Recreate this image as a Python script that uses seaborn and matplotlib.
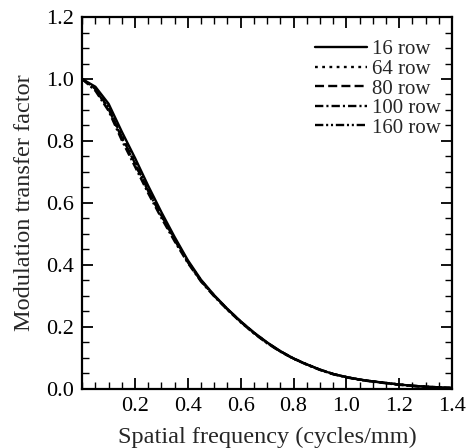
import numpy as np
import pandas as pd
import seaborn as sns
import matplotlib.pyplot as plt
from matplotlib.ticker import MultipleLocator

# -----------------------------
# Data
# -----------------------------
freq = [0.0, 0.05, 0.1, 0.15, 0.2, 0.25, 0.3, 0.35, 0.4, 0.45, 0.5, 0.55, 0.6,
        0.65, 0.7, 0.75, 0.8, 0.85, 0.9, 0.95, 1.0, 1.05, 1.1, 1.15, 1.2,
        1.25, 1.3, 1.35, 1.4]

mtf_16 = [1.0, 0.975, 0.92, 0.83, 0.745, 0.655, 0.57, 0.49, 0.415, 0.352, 0.302,
          0.258, 0.218, 0.182, 0.15, 0.122, 0.098, 0.079, 0.062, 0.048, 0.038,
          0.030, 0.024, 0.019, 0.014, 0.010, 0.007, 0.005, 0.003]
mtf_64 = [1.0, 0.970, 0.910, 0.818, 0.733, 0.645, 0.562, 0.484, 0.411, 0.350, 0.301,
          0.257, 0.217, 0.181, 0.149, 0.121, 0.098, 0.079, 0.062, 0.048, 0.038,
          0.030, 0.024, 0.019, 0.014, 0.010, 0.007, 0.005, 0.003]
mtf_80 = [1.0, 0.968, 0.906, 0.813, 0.728, 0.641, 0.559, 0.482, 0.410, 0.349, 0.300,
          0.257, 0.217, 0.181, 0.149, 0.121, 0.098, 0.079, 0.062, 0.048, 0.038,
          0.030, 0.024, 0.019, 0.014, 0.010, 0.007, 0.005, 0.003]
mtf_100 = [1.0, 0.962, 0.897, 0.802, 0.717, 0.631, 0.551, 0.476, 0.406, 0.346, 0.298,
           0.255, 0.215, 0.179, 0.147, 0.120, 0.097, 0.078, 0.061, 0.047, 0.037,
           0.029, 0.023, 0.018, 0.013, 0.009, 0.006, 0.004, 0.002]
mtf_160 = [1.0, 0.966, 0.903, 0.810, 0.725, 0.638, 0.557, 0.480, 0.409, 0.348, 0.300,
           0.256, 0.216, 0.180, 0.148, 0.121, 0.098, 0.079, 0.062, 0.048, 0.038,
           0.030, 0.024, 0.019, 0.014, 0.010, 0.007, 0.005, 0.003]

labels = ["16 row", "64 row", "80 row", "100 row", "160 row"]
series = [mtf_16, mtf_64, mtf_80, mtf_100, mtf_160]
dashes = [None, (2, 3.2), (6.5, 3), (6, 2.2, 1.5, 2.2), (6, 2, 1.5, 2, 1.5, 2)]

# -----------------------------
# Style
# -----------------------------
sns.set_style("ticks")
plt.rcParams["font.family"] = ["Liberation Serif", "DejaVu Serif"]
plt.rcParams["lines.scale_dashes"] = False

fig = plt.figure(figsize=(4.67, 4.48), dpi=100)
ax = fig.add_axes([0.176, 0.132, 0.792, 0.830])

for lab, vals, d in zip(labels, series, dashes):
    df = pd.DataFrame({"freq": freq, "mtf": vals})
    sns.lineplot(data=df, x="freq", y="mtf", ax=ax, color="black",
                 linewidth=1.7, label=lab)
    if d is not None:
        ax.get_lines()[-1].set_dashes(d)

ax.set_xlim(0, 1.4)
ax.set_ylim(0, 1.2)
ax.set_xticks([0.2, 0.4, 0.6, 0.8, 1.0, 1.2, 1.4])
ax.set_yticks(np.arange(0, 1.21, 0.2))
ax.xaxis.set_minor_locator(MultipleLocator(0.05))
ax.yaxis.set_minor_locator(MultipleLocator(0.05))
ax.xaxis.set_major_formatter(plt.FormatStrFormatter("%.1f"))
ax.yaxis.set_major_formatter(plt.FormatStrFormatter("%.1f"))

ax.tick_params(which="both", direction="in", top=True, right=True,
               color="black", labelsize=16, labelcolor="black")
ax.tick_params(which="major", length=8, width=1.3, pad=6)
ax.tick_params(which="minor", length=5, width=1.0)
for sp in ax.spines.values():
    sp.set_linewidth(1.6)
    sp.set_color("black")

ax.set_xlabel("Spatial frequency (cycles/mm)", fontsize=17.5, labelpad=8)
ax.set_ylabel("Modulation transfer factor", fontsize=17.5, labelpad=8)

leg = ax.legend(loc="upper right", bbox_to_anchor=(1.01, 0.978), frameon=False,
                fontsize=15, handlelength=2.5, handletextpad=0.25,
                labelspacing=0.0, borderaxespad=0.3, borderpad=0.4)
for h in leg.get_lines():
    h.set_linewidth(1.7)

fig.savefig("out.png", dpi=100)
